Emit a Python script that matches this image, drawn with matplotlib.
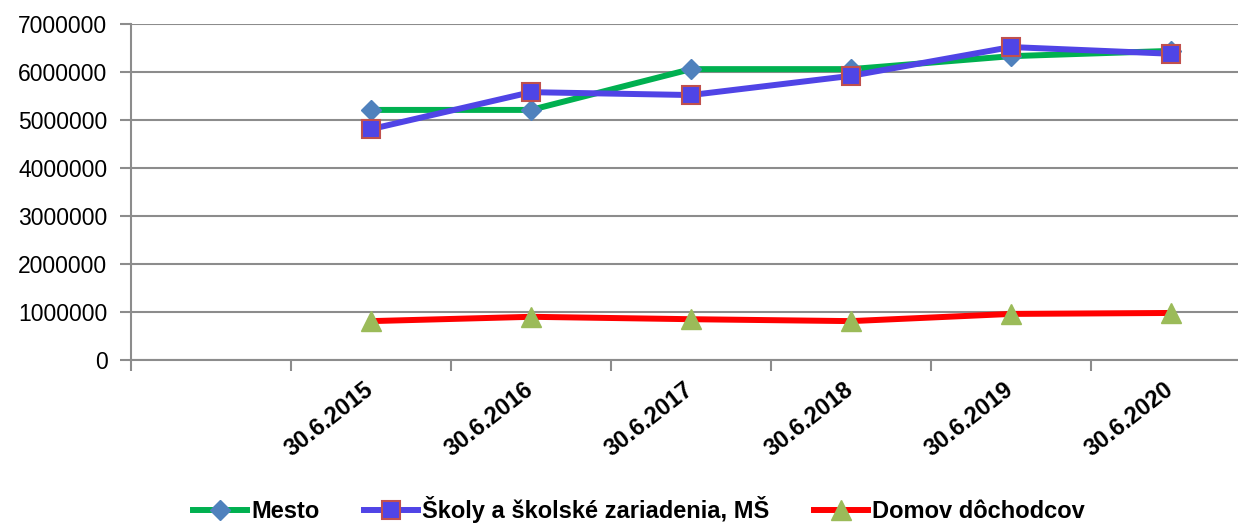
import matplotlib
matplotlib.use('Agg')
import matplotlib.pyplot as plt
import numpy as np
from matplotlib.ticker import MultipleLocator, FixedLocator

# data (first category is empty in the source)
categories = ['', '30.6.2015', '30.6.2016', '30.6.2017', '30.6.2018', '30.6.2019', '30.6.2020']
mesto = [np.nan, 5210000, 5210000, 6060000, 6060000, 6330000, 6440000]
skoly = [np.nan, 4810000, 5580000, 5520000, 5920000, 6520000, 6380000]
domov = [np.nan, 810000, 900000, 850000, 810000, 960000, 980000]
series_names = ['Mesto', 'Školy a školské zariadenia, MŠ', 'Domov dôchodcov']

plt.rcParams['font.family'] = ['Liberation Sans', 'DejaVu Sans']
grid_col = '#8c8c8c'

fig = plt.figure(figsize=(12.38, 5.25), dpi=100)
# axis runs past the right edge like in the original
ax = fig.add_axes([131 / 1238, 1 - 360 / 525, 1120 / 1238, 336 / 525])

x = np.arange(len(categories))
ax.plot(x, mesto, color='#00B050', lw=4.3, marker='D', ms=10,
        mfc='#4F81BD', mec='#4F81BD', label=series_names[0], zorder=3)
ax.plot(x, skoly, color='#5044E6', lw=4.3, marker='s', ms=13,
        mfc='#4F45E6', mec='#C0504D', mew=1.5, label=series_names[1], zorder=4)
ax.plot(x, domov, color='#FF0000', lw=4.3, marker='^', ms=15,
        mfc='#9BBB59', mec='#9BBB59', label=series_names[2], zorder=5)

ax.set_xlim(-0.5, len(categories) - 0.5)
ax.set_ylim(0, 7000000)
ax.yaxis.set_major_locator(MultipleLocator(1000000))
ax.yaxis.set_major_formatter(plt.FuncFormatter(lambda v, p: f'{int(v)}'))
ax.grid(axis='y', color=grid_col, lw=1.5)
ax.set_axisbelow(True)

# category boundaries get the tick marks, labels sit (a bit left of) the centres
ax.xaxis.set_major_locator(FixedLocator(np.arange(len(categories) + 1) - 0.5))
ax.xaxis.set_minor_locator(FixedLocator(x - 0.05))
ax.set_xticklabels([])
ax.set_xticklabels(categories, minor=True, rotation=38, ha='right',
                   rotation_mode='anchor', fontsize=17, fontweight='bold')
ax.tick_params(axis='x', which='major', length=8, width=1.5, color=grid_col)
ax.tick_params(axis='x', which='minor', length=0, pad=13)
ax.tick_params(axis='y', length=8, width=1.5, color=grid_col, labelsize=16.5, pad=9)

for side in ['top', 'right']:
    ax.spines[side].set_visible(False)
for side in ['left', 'bottom']:
    ax.spines[side].set_color(grid_col)
    ax.spines[side].set_linewidth(1.5)

fig.legend(loc='lower center', bbox_to_anchor=(0.516, -0.037), ncol=3, frameon=False,
           prop={'size': 17, 'weight': 'bold'}, handlelength=2.3, columnspacing=1.9,
           handletextpad=0.15)

fig.savefig('out.png', dpi=100)
